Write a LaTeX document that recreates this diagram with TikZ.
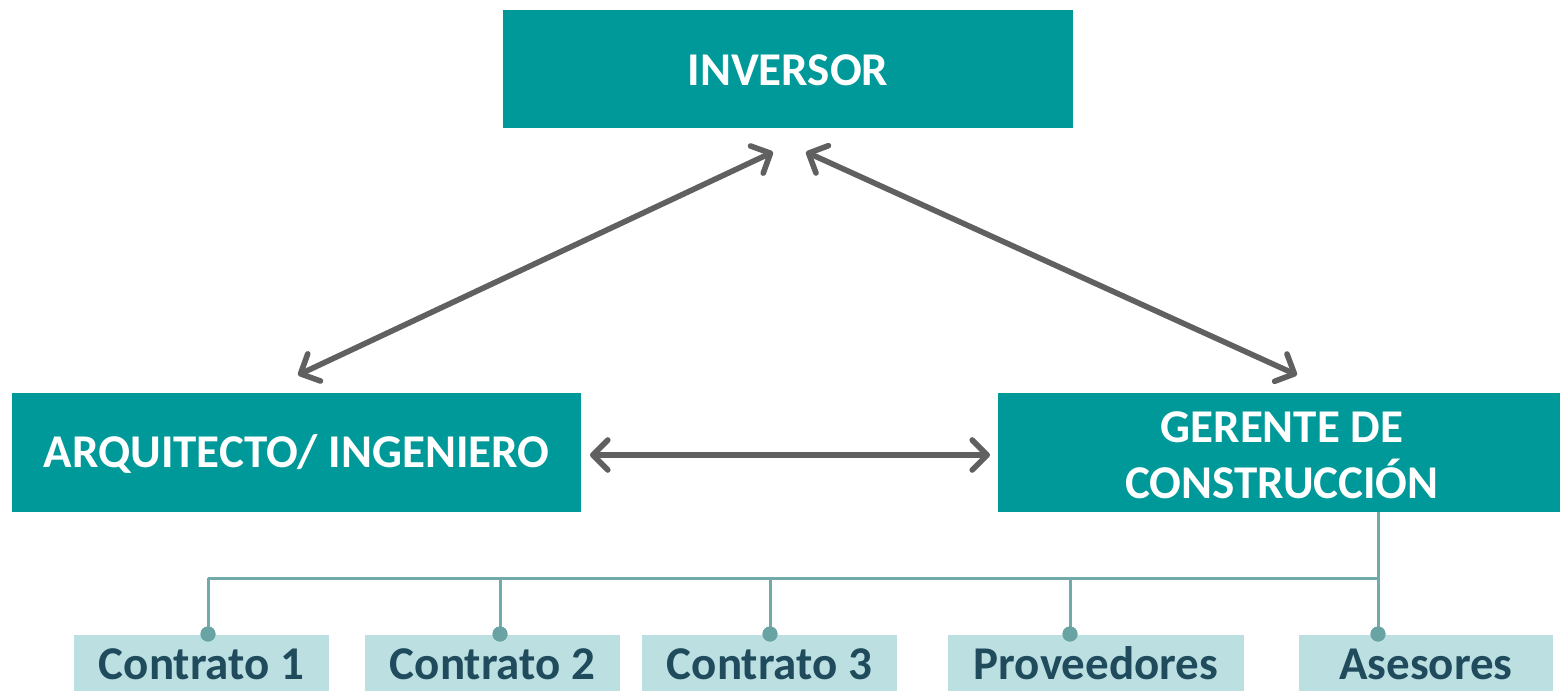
\documentclass[tikz,border=0pt]{standalone}
\usepackage{fontspec}
\setmainfont{Carlito}
\usetikzlibrary{arrows.meta}
\definecolor{teal1}{HTML}{009999}
\definecolor{arrowgray}{HTML}{606060}
\definecolor{treeline}{HTML}{72A9A9}
\definecolor{dotcol}{HTML}{6AA3A3}
\definecolor{lightbox}{HTML}{BCE0E2}
\definecolor{darktext}{HTML}{1F4B5C}
\tikzset{
  mainbox/.style={fill=teal1, draw=none, inner sep=0pt, text=white, align=center,
    font=\fontsize{23.5}{28}\selectfont\bfseries},
  subbox/.style={fill=lightbox, draw=none, inner sep=0pt, minimum height=28pt, text=darktext,
    text height=22pt, text depth=6pt,
    font=\fontsize{23.5}{28}\selectfont\bfseries},
  twoway/.style={draw=arrowgray, line width=2.8pt, line cap=round,
    {Straight Barb[length=7.5pt,width=15pt,line cap=round,line join=round]}-{Straight Barb[length=7.5pt,width=15pt,line cap=round,line join=round]}},
  tree/.style={draw=treeline, line width=1.5pt},
  tdot/.style={circle, fill=dotcol, inner sep=0pt, minimum size=7.5pt}
}
\begin{document}
\begin{tikzpicture}[x=0.5pt,y=-0.5pt]
\useasboundingbox (0,0) rectangle (1560,691);
% main boxes
\node[mainbox, minimum width=285pt, minimum height=59pt, text height=22pt, text depth=6pt] (inv) at (788,69) {INVERSOR};
\node[mainbox, minimum width=284.5pt, minimum height=59.5pt, text height=20pt, text depth=5.5pt] (arq) at (296.5,452.5) {ARQUITECTO/ INGENIERO};
\node[mainbox, minimum width=281pt, minimum height=59.5pt] (ger) at (1279,452.5) {};
\node[white, font=\fontsize{23.5}{28}\selectfont\bfseries, align=center] (gertxt) at (1282,455.5) {GERENTE DE\\CONSTRUCCIÓN};
% bottom boxes
\node[subbox, minimum width=127.5pt] (c1) at (201.5,663) {Contrato 1};
\node[subbox, minimum width=127.5pt] (c2) at (492.5,663) {Contrato 2};
\node[subbox, minimum width=127.5pt] (c3) at (769.5,663) {Contrato 3};
\node[subbox, minimum width=148pt] (prov) at (1096,663) {Proveedores};
\node[subbox, minimum width=127pt] (ases) at (1426,663) {Asesores};
% arrow end points
\coordinate (a1s) at (298,375);
\coordinate (a1e) at (773,152);
\coordinate (a2s) at (806,152);
\coordinate (a2e) at (1297,375);
\coordinate (a3s) at (590,455);
\coordinate (a3e) at (990,455);
\draw[twoway] (a1s) -- (a1e);
\draw[twoway] (a2s) -- (a2e);
\draw[twoway] (a3s) -- (a3e);
% tree
\coordinate (gb) at (1378,512);
\coordinate (j5) at (1378,578);
\coordinate (j1) at (208,578);
\coordinate (j2) at (500,578);
\coordinate (j3) at (770,578);
\coordinate (j4) at (1070,578);
\node[tdot] (d1) at (208,634) {};
\node[tdot] (d2) at (500,634) {};
\node[tdot] (d3) at (770,634) {};
\node[tdot] (d4) at (1070,634) {};
\node[tdot] (d5) at (1378,634) {};
\draw[tree] (gb) -- (d5.center);
\draw[tree] (j1) -- (j5);
\draw[tree] (j1) -- (d1.center);
\draw[tree] (j2) -- (d2.center);
\draw[tree] (j3) -- (d3.center);
\draw[tree] (j4) -- (d4.center);
\node[tdot] at (d1) {};
\node[tdot] at (d2) {};
\node[tdot] at (d3) {};
\node[tdot] at (d4) {};
\node[tdot] at (d5) {};
\end{tikzpicture}
\end{document}
